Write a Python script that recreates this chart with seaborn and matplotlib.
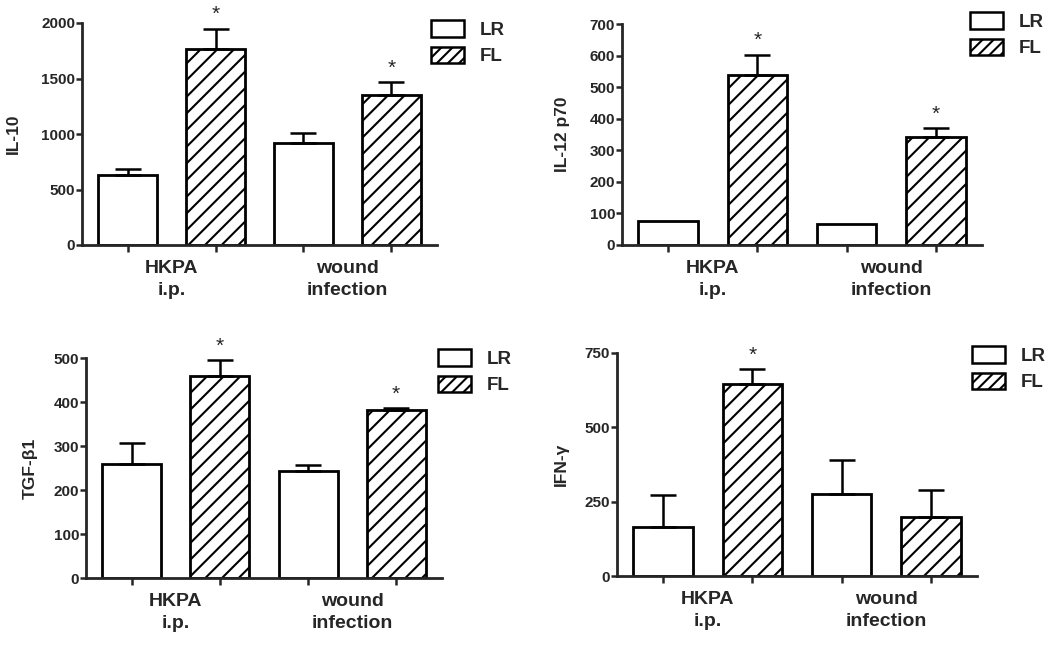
import numpy as np
import pandas as pd
import matplotlib
matplotlib.use("Agg")
import matplotlib.pyplot as plt
import seaborn as sns
from matplotlib.patches import Patch

# ---------------- data ----------------
conditions = ["HKPA\ni.p.", "wound\ninfection"]
groups = ["LR", "FL"]

il10_lr = [630, 915]
il10_lr_err = [55, 90]
il10_fl = [1765, 1355]
il10_fl_err = [185, 110]
il10_star = [True, True]

il12_lr = [77, 67]
il12_lr_err = [0, 0]
il12_fl = [540, 341]
il12_fl_err = [63, 29]
il12_star = [True, True]

tgf_lr = [258, 243]
tgf_lr_err = [49, 13]
tgf_fl = [460, 381]
tgf_fl_err = [35, 6]
tgf_star = [True, True]

ifn_lr = [164, 276]
ifn_lr_err = [110, 115]
ifn_fl = [647, 200]
ifn_fl_err = [50, 90]
ifn_star = [True, False]

ylabels = ["IL-10", "IL-12 p70", "TGF-β1", "IFN-γ"]
yticks_list = [[0, 500, 1000, 1500, 2000],
               [0, 100, 200, 300, 400, 500, 600, 700],
               [0, 100, 200, 300, 400, 500],
               [0, 250, 500, 750]]

# ---------------- style ----------------
sns.set_style("ticks")
plt.rcParams["font.family"] = ["Liberation Sans", "DejaVu Sans"]
plt.rcParams["hatch.linewidth"] = 1.5

fig = plt.figure(figsize=(10.5, 6.45), dpi=100)
W, H = 1050, 645

def rect(l, r, t, b):
    return [l / W, 1 - b / H, (r - l) / W, (b - t) / H]

rects = [rect(82, 437, 23, 245), rect(622, 982, 24, 245),
         rect(86, 442, 358, 578), rect(617, 977, 353, 576)]
label_x = [-0.172, -0.144, -0.135, -0.133]
legend_anchor = [(0.983, 1.012), (0.967, 1.053), (0.989, 1.04), (0.986, 1.03)]

panels = [
    (il10_lr, il10_lr_err, il10_fl, il10_fl_err, il10_star),
    (il12_lr, il12_lr_err, il12_fl, il12_fl_err, il12_star),
    (tgf_lr, tgf_lr_err, tgf_fl, tgf_fl_err, tgf_star),
    (ifn_lr, ifn_lr_err, ifn_fl, ifn_fl_err, ifn_star),
]

LW = 2.0
for i, (lr, lr_err, fl, fl_err, star) in enumerate(panels):
    ax = fig.add_axes(rects[i])
    df = pd.DataFrame({
        "cond": conditions * 2,
        "group": ["LR"] * 2 + ["FL"] * 2,
        "value": lr + fl,
    })
    sns.barplot(data=df, x="cond", y="value", hue="group",
                order=conditions, hue_order=groups,
                palette={"LR": "white", "FL": "white"}, saturation=1,
                edgecolor="black", linewidth=LW, width=1.0, gap=0.33,
                errorbar=None, legend=False, ax=ax, zorder=2)
    errs = {"LR": lr_err, "FL": fl_err}
    centers = []
    for cont, g in zip(ax.containers, groups):
        for j, p in enumerate(cont):
            xc = p.get_x() + p.get_width() / 2
            top = p.get_height()
            centers.append(xc)
            if g == "FL":
                p.set_hatch("//")
            e = errs[g][j]
            if e > 0:
                ax.errorbar([xc], [top], yerr=[[0], [e]], fmt="none",
                            ecolor="black", elinewidth=1.8, capsize=9.5,
                            capthick=1.8, zorder=3)
            if g == "FL" and star[j]:
                ax.annotate("*", xy=(xc, top + e), xytext=(0, 6),
                            textcoords="offset points", ha="center",
                            va="baseline", fontsize=15,
                            annotation_clip=False)
    ax.set_xlim(-0.51, 1.51)
    yt = yticks_list[i]
    ax.set_ylim(0, yt[-1])
    ax.set_yticks(yt)
    ax.set_yticklabels([str(v) for v in yt], fontsize=11, fontweight="bold")
    ax.set_xticks(sorted(centers), minor=True)
    ax.set_xticks([0, 1])
    ax.set_xticklabels(conditions, fontsize=14, fontweight="bold",
                       linespacing=1.4)
    ax.tick_params(axis="x", which="major", length=0, pad=11)
    ax.tick_params(axis="x", which="minor", length=5, width=1.8,
                   direction="out")
    ax.tick_params(axis="y", length=4.5, width=1.8, pad=0.5)
    ax.set_xlabel("")
    ax.set_ylabel(ylabels[i], fontsize=12.5, fontweight="bold")
    ax.yaxis.set_label_coords(label_x[i], 0.5)
    sns.despine(ax=ax)
    for s in ("left", "bottom"):
        ax.spines[s].set_linewidth(LW)
    handles = [Patch(facecolor="white", edgecolor="black", linewidth=1.8, label="LR"),
               Patch(facecolor="white", edgecolor="black", linewidth=1.8,
                     hatch="///", label="FL")]
    ax.legend(handles=handles, loc="upper left",
              bbox_to_anchor=legend_anchor[i], frameon=False,
              borderaxespad=0, borderpad=0, handlelength=1.75,
              handleheight=1.0, handletextpad=0.85, labelspacing=0.4,
              prop={"weight": "bold", "size": 13.5})

fig.savefig("out.png", dpi=100)
